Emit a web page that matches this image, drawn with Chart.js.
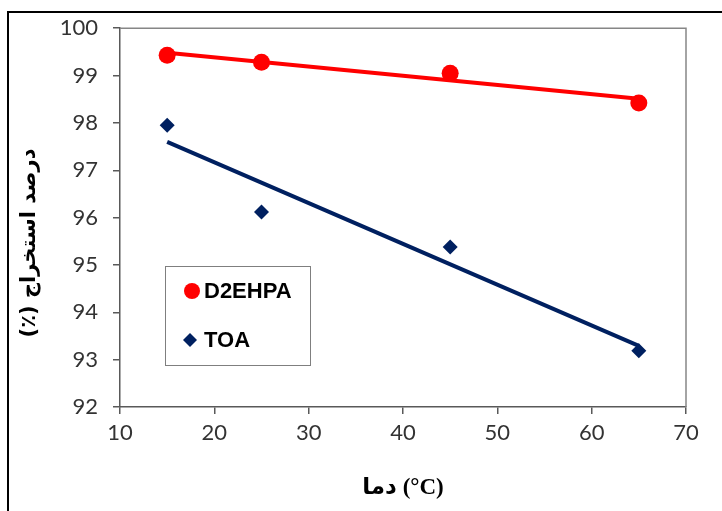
<!DOCTYPE html>
<html>
<head>
<meta charset="utf-8">
<script src="https://cdn.jsdelivr.net/npm/chart.js@4.4.1/dist/chart.umd.min.js"></script>
<style>
  html, body { margin: 0; padding: 0; background: #fff; }
  #wrap { position: relative; width: 722px; height: 511px; }
  #frame { position: absolute; left: 7px; top: 11px; right: 0; bottom: 0; border-left: 2px solid #000; border-top: 2px solid #000; pointer-events: none; }
  canvas { position: absolute; left: 0; top: 0; }
</style>
</head>
<body>
<div id="wrap">
  <canvas id="chart" width="722" height="511"></canvas>
  <div id="frame"></div>
</div>
<script>
(function () {
    'use strict';

    // ====== Data ======
    const temps = [15, 25, 45, 65];
    const d2ehpa = [99.43, 99.28, 99.05, 98.42];
    const toa = [97.95, 96.12, 95.38, 93.19];

    // trend lines (linear fit, end points)
    const trendX = [15, 65];
    const trendD2ehpa = [99.48, 98.51];
    const trendToa = [97.60, 93.29];

    const xTicks = [10, 20, 30, 40, 50, 60, 70];
    const yTicks = [92, 93, 94, 95, 96, 97, 98, 99, 100];

    const seriesNames = ['D2EHPA', 'TOA'];
    const xTitle = 'دما (°C)';
    const yTitle = 'درصد استخراج (٪)';

    const RED = '#ff0000';
    const NAVY = '#002060';
    const AXIS = '#595959';

    const pts = (xs, ys) => xs.map((x, i) => ({ x: x, y: ys[i] }));

    // ====== plot frame, y title and legend box ======
    const extras = {
        id: 'extras',
        afterDraw(chart) {
            const { ctx, chartArea: a } = chart;
            ctx.save();
            // top + right border of the plot area
            ctx.strokeStyle = '#868686';
            ctx.lineWidth = 1.5;
            ctx.beginPath();
            ctx.moveTo(a.left, a.top);
            ctx.lineTo(a.right, a.top);
            ctx.lineTo(a.right, a.bottom);
            ctx.stroke();

            // y axis title
            ctx.translate(30, 243);
            ctx.rotate(-Math.PI / 2);
            ctx.fillStyle = '#000';
            ctx.font = 'bold 21px "DejaVu Sans"';
            ctx.textAlign = 'center';
            ctx.textBaseline = 'middle';
            ctx.direction = 'rtl';
            ctx.fillText(yTitle, 0, 0);
            ctx.restore();

            // legend
            ctx.save();
            ctx.strokeStyle = '#7f7f7f';
            ctx.lineWidth = 1;
            ctx.strokeRect(165.5, 266.5, 145, 99);
            ctx.fillStyle = RED;
            ctx.beginPath();
            ctx.arc(192, 291, 8, 0, Math.PI * 2);
            ctx.fill();
            ctx.fillStyle = NAVY;
            ctx.beginPath();
            ctx.moveTo(190, 333);
            ctx.lineTo(197, 340);
            ctx.lineTo(190, 347);
            ctx.lineTo(183, 340);
            ctx.closePath();
            ctx.fill();
            ctx.fillStyle = '#000';
            ctx.font = 'bold 22px "Liberation Sans"';
            ctx.textAlign = 'left';
            ctx.textBaseline = 'middle';
            ctx.fillText(seriesNames[0], 204, 292);
            ctx.fillText(seriesNames[1], 204, 341);
            ctx.restore();
        }
    };

    new Chart(document.getElementById('chart'), {
        type: 'scatter',
        data: {
            datasets: [
                {
                    label: seriesNames[0],
                    data: pts(temps, d2ehpa),
                    pointStyle: 'circle',
                    pointRadius: 8.5,
                    pointHoverRadius: 8.5,
                    backgroundColor: RED,
                    borderColor: RED,
                    borderWidth: 0,
                    order: 0
                },
                {
                    label: seriesNames[1],
                    data: pts(temps, toa),
                    pointStyle: 'rectRot',
                    pointRadius: 7.5,
                    pointHoverRadius: 7.5,
                    backgroundColor: NAVY,
                    borderColor: NAVY,
                    borderWidth: 0,
                    order: 0
                },
                {
                    label: 'trend D2EHPA',
                    data: pts(trendX, trendD2ehpa),
                    showLine: true,
                    pointRadius: 0,
                    borderColor: RED,
                    borderWidth: 4,
                    order: 1
                },
                {
                    label: 'trend TOA',
                    data: pts(trendX, trendToa),
                    showLine: true,
                    pointRadius: 0,
                    borderColor: NAVY,
                    borderWidth: 4,
                    order: 1
                }
            ]
        },
        options: {
            responsive: false,
            animation: false,
            layout: { padding: { left: 0, top: 28, right: 36, bottom: 0 } },
            plugins: {
                legend: { display: false },
                tooltip: { enabled: false }
            },
            scales: {
                x: {
                    type: 'linear',
                    min: xTicks[0],
                    max: xTicks[xTicks.length - 1],
                    afterBuildTicks: (s) => { s.ticks = xTicks.map(v => ({ value: v })); },
                    afterFit: (s) => { s.height = 104; },
                    grid: { drawOnChartArea: false, drawTicks: true, tickLength: 7, color: AXIS, lineWidth: 1.5 },
                    border: { display: true, color: AXIS, width: 1.5 },
                    ticks: { color: '#333333', padding: 6, font: { family: 'Lato', size: 22 } },
                    title: {
                        display: true,
                        text: xTitle,
                        color: '#000',
                        font: { family: '"Liberation Serif", "DejaVu Sans"', size: 23, weight: 'bold' },
                        padding: { top: 0, bottom: 9 }
                    }
                },
                y: {
                    min: yTicks[0],
                    max: yTicks[yTicks.length - 1],
                    afterBuildTicks: (s) => { s.ticks = yTicks.map(v => ({ value: v })); },
                    afterFit: (s) => { s.width = 120; },
                    grid: { drawOnChartArea: false, drawTicks: true, tickLength: 7, color: AXIS, lineWidth: 1.5 },
                    border: { display: true, color: AXIS, width: 1.5 },
                    ticks: { color: '#333333', padding: 15, font: { family: 'Lato', size: 22 } }
                }
            }
        },
        plugins: [extras]
    });
})();
</script>
</body>
</html>
